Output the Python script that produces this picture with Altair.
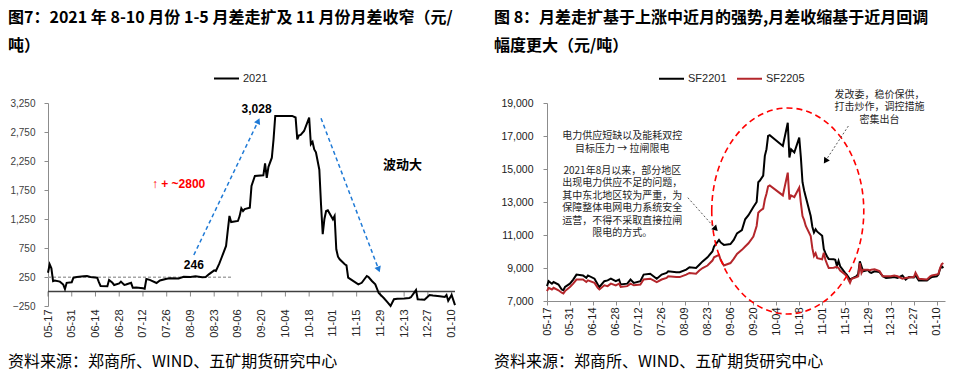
import altair as alt
import pandas as pd

# ---------------- data ----------------
L_DATES = ["05-17","05-18","05-19","05-20","05-21","05-24","05-26","05-27","05-28","05-31",
           "06-01","06-03","06-07","06-09","06-11","06-15","06-16","06-17","06-21","06-22",
           "06-24","06-25","06-28","06-29","07-01","07-02","07-05","07-06","07-08","07-12",
           "07-13","07-14","07-16","07-20","07-22","07-26","07-28","08-02","08-05","08-09",
           "08-12","08-16","08-18","08-20","08-23","08-24","08-26","08-27","08-30","08-31",
           "09-01","09-02","09-06","09-07","09-08","09-09","09-10","09-13","09-14","09-16",
           "09-21","09-22","09-23","09-24","09-26","09-27","09-28","10-08","10-10","10-11",
           "10-12","10-13","10-15","10-18","10-19","10-20","10-21","10-22","10-24","10-25",
           "10-26","10-27","10-28","10-29","11-01","11-02","11-03","11-04","11-05","11-08",
           "11-09","11-10","11-12","11-16","11-18","11-21","11-22","11-24","11-26","11-28",
           "12-01","12-03","12-05","12-07","12-09","12-13","12-16","12-17","12-20","12-21",
           "12-23","12-25","12-28","12-30","01-03","01-06","01-07","01-08","01-10","01-12"]
L_SPREAD = [324,469,400,180,190,170,120,43,150,160,
            238,250,262,267,250,238,160,95,90,198,
            150,112,140,170,112,120,150,65,70,55,
            48,216,200,147,190,220,230,225,255,250,
            262,246,250,300,365,354,480,556,785,1050,
            1302,1198,1216,1300,1434,1388,1420,1445,1819,1991,
            2003,2210,1960,2150,2307,2624,3028,3028,3000,2624,
            2693,2700,2767,2997,2538,2578,2450,2400,2100,1500,
            990,1250,1388,1400,1245,1302,728,600,556,469,
            450,238,200,124,150,267,250,181,124,-26,
            -112,-180,-250,-134,-125,-120,-112,-100,24,-134,
            -140,-143,-60,-70,-80,-95,-60,-160,-60,-236]

R_DATES = ["05-17","05-18","05-20","05-21","05-24","05-26","05-27","05-28","05-31","06-02",
           "06-04","06-08","06-10","06-11","06-15","06-17","06-18","06-21","06-23","06-25",
           "06-28","06-30","07-01","07-05","07-07","07-09","07-13","07-15","07-19","07-21",
           "07-23","07-26","07-29","07-30","08-04","08-06","08-10","08-12","08-16","08-18",
           "08-20","08-23","08-26","08-27","08-30","08-31","09-02","09-06","09-08","09-10",
           "09-13","09-15","09-17","09-20","09-22","09-23","09-24","09-26","09-27","09-28",
           "09-29","09-30","10-08","10-11","10-12","10-13","10-15","10-18","10-19","10-20",
           "10-21","10-22","10-25","10-26","10-27","10-28","10-29","11-01","11-02","11-03",
           "11-04","11-05","11-08","11-09","11-10","11-11","11-12","11-15","11-16","11-17",
           "11-18","11-19","11-22","11-23","11-24","11-25","11-26","11-29","11-30","12-01",
           "12-03","12-06","12-08","12-10","12-13","12-15","12-17","12-20","12-22","12-24",
           "12-27","12-28","12-30","01-04","01-06","01-07","01-10","01-11","01-12","01-13",
           "01-14"]
R_SF2201 = [7900,8200,8050,8150,8000,7700,7650,7850,8050,8300,
            8600,8550,8400,8550,8350,8000,7850,8200,8250,8350,
            8200,8300,8000,8050,8300,8100,8200,8600,8650,8500,
            8350,8600,8700,8800,8750,8750,8900,9050,9000,9200,
            9400,9650,10000,10300,10700,10550,10400,10450,10700,11100,
            11300,11950,12200,12700,13000,14200,14300,14600,15800,16200,
            17000,17050,16400,17800,15700,16200,16000,16900,15700,14200,
            13700,13300,12150,11500,11150,11350,11200,10950,10150,9900,
            9700,9550,9530,9500,9120,9430,9100,8700,8600,8450,
            8300,8350,8500,8650,9400,9100,8800,8870,8750,8700,
            8800,8750,8500,8400,8420,8450,8400,8550,8300,8450,
            8420,8550,8250,8250,8400,8450,8500,8600,8950,9100,
            9000]
R_SF2205 = [7600,7800,7700,7800,7650,7500,7450,7600,7850,8050,
            8300,8300,8150,8250,8100,7800,7700,7950,7900,8050,
            7950,8050,7850,7900,8050,7950,8000,8300,8350,8250,
            8150,8300,8400,8500,8450,8450,8600,8700,8650,8850,
            9000,9150,9450,9650,9800,9500,9150,9300,9550,9850,
            10100,10300,10500,10900,11550,12350,12450,12600,13150,13500,
            13950,14000,13400,14780,13150,13400,13300,13870,12950,12150,
            11900,11550,10940,10200,9730,9900,9600,9530,9930,9500,
            9230,9000,9020,9050,9070,9000,8850,8600,8500,8300,
            8100,8350,8450,8500,9300,8700,8900,8900,8850,8900,
            8920,8820,8500,8500,8500,8550,8500,8350,8400,8420,
            8450,8720,8350,8310,8500,8550,8600,8650,9000,9230,
            9300]

X_TICKS = ["05-17","05-31","06-14","06-28","07-12","07-26","08-09","08-23","09-06",
           "09-20","10-04","10-18","11-01","11-15","11-29","12-13","12-27","01-10"]
L_Y_TICKS = [-250, 250, 750, 1250, 1750, 2250, 2750, 3250]
R_Y_TICKS = [7000, 9000, 11000, 13000, 15000, 17000, 19000]

L_TITLE = ["图7：2021 年 8-10 月份 1-5 月差走扩及 11 月份月差收窄（元/", "吨）"]
R_TITLE = ["图 8：月差走扩基于上涨中近月的强势,月差收缩基于近月回调", "幅度更大（元/吨）"]
SOURCE = "资料来源：郑商所、WIND、五矿期货研究中心"


def iso(md):
    return ("2022-" if md.startswith("01") else "2021-") + md


def dt(md):
    y, m, d = iso(md).split("-")
    return alt.DateTime(year=int(y), month=int(m), date=int(d), utc=True)


CJK = "Noto Sans CJK SC"
NUM = "Liberation Sans"
ONE = pd.DataFrame({"k": [0]})

# ---------------- left panel ----------------
LW, LH = 407, 203
L_XS = alt.Scale(type="utc", domain=[dt("05-17"), dt("01-12")])
L_YS = alt.Scale(domain=[-250, 3250], nice=False, zero=False)
L_XAX = alt.Axis(values=[dt(t) for t in X_TICKS], format="%m-%d", labelAngle=-90,
                 domain=False, ticks=False, grid=False, labelPadding=3, labelFontSize=11,
                 labelFont=NUM, labelColor="#262626", title=None, labelOverlap=False)
L_YAX = alt.Axis(values=L_Y_TICKS, format=",.0f", grid=False, domainColor="#8c8c8c",
                 tickColor="#8c8c8c", tickSize=4, labelPadding=9, labelFontSize=10,
                 labelFont=NUM, labelColor="#404040", title=None)


def lx(f):
    return alt.X(f"{f}:T", scale=L_XS, axis=L_XAX)


def ly(f):
    return alt.Y(f"{f}:Q", scale=L_YS, axis=L_YAX)


ldf = pd.DataFrame({"date": [iso(d) for d in L_DATES], "v": L_SPREAD, "s": "2021"})

l_line = alt.Chart(ldf).mark_line(strokeWidth=2).encode(
    x=lx("date"), y=ly("v"),
    color=alt.Color("s:N", scale=alt.Scale(domain=["2021"], range=["#000000"]),
                    legend=alt.Legend(orient="none", legendX=165, legendY=-38,
                                      direction="horizontal", title=None, symbolType="stroke",
                                      symbolSize=625, symbolStrokeWidth=2, labelFontSize=11,
                                      labelFont=NUM, labelColor="#262626", padding=0,
                                      labelOffset=3)))

zero_df = pd.DataFrame({"z": [0]})
l_zero = alt.Chart(zero_df).mark_rule(color="#404040", strokeWidth=1.6).encode(y=ly("z"))
tick_df = pd.DataFrame({"d": [iso(t) for t in X_TICKS], "z": 0})
l_ticks = alt.Chart(tick_df).mark_tick(orient="vertical", size=5, thickness=1, yOffset=2.5,
                                       color="#595959").encode(x=lx("d"), y=ly("z"))

ref_df = pd.DataFrame({"d1": [iso("05-17")], "d2": [iso("09-02")], "v": [246]})
l_ref = alt.Chart(ref_df).mark_rule(color="#a6a6a6", strokeDash=[3, 2], strokeWidth=1.5).encode(
    x=lx("d1"), x2="d2", y=ly("v"))


def arrow(xf, yf, p0, p1, color, dash, width, ang, head_color, head_size):
    df = pd.DataFrame({"d1": [p0[0]], "v1": [p0[1]], "d2": [p1[0]], "v2": [p1[1]]})
    rule = alt.Chart(df).mark_rule(color=color, strokeDash=dash, strokeWidth=width).encode(
        x=xf("d1"), y=yf("v1"), x2="d2", y2="v2")
    head = alt.Chart(df).mark_point(shape="triangle-up", filled=True, size=head_size, angle=ang,
                                    color=head_color, opacity=1).encode(x=xf("d2"), y=yf("v2"))
    return [rule, head]


BLUE = "#1f7ad6"
l_arrows = (arrow(lx, ly, ("2021-08-11", 630), ("2021-09-18", 2940), BLUE, [4, 3], 1.5, 25, BLUE, 45)
            + arrow(lx, ly, ("2021-10-25", 2986), ("2021-11-28", 380), BLUE, [4, 3], 1.5, 159, BLUE, 45))

lab_df = pd.DataFrame({"d": ["2021-09-17", "2021-08-11"], "v": [3150, 460], "t": ["3,028", "246"]})
l_labs = alt.Chart(lab_df).mark_text(font=NUM, fontSize=12, fontWeight="bold", color="#000").encode(
    x=lx("d"), y=ly("v"), text="t:N")
red_df = pd.DataFrame({"d": ["2021-08-02"], "v": [1854], "t": ["↑ + ~2800"]})
l_red = alt.Chart(red_df).mark_text(font=NUM + ", DejaVu Sans", fontSize=12, fontWeight="bold",
                                    color="#ff0000").encode(x=lx("d"), y=ly("v"), text="t:N")
big_df = pd.DataFrame({"d": ["2021-12-12"], "v": [2181], "t": ["波动大"]})
l_big = alt.Chart(big_df).mark_text(font=CJK, fontSize=13, fontWeight="bold", color="#000").encode(
    x=lx("d"), y=ly("v"), text="t:N")


def page_text(txt, x, y, size, weight="normal"):
    return alt.Chart(ONE).mark_text(align="left", baseline="middle", font=CJK, fontSize=size,
                                    fontWeight=weight, color="#000").encode(
        x=alt.value(x), y=alt.value(y), text=alt.value(txt))


l_texts = [page_text(L_TITLE[0], -40, -85, 16, "bold"), page_text(L_TITLE[1], -40, -57, 16, "bold"),
           page_text(SOURCE, -40, 259, 16)]

left = alt.layer(l_ref, l_zero, l_ticks, l_line, *l_arrows, l_labs, l_red, l_big, *l_texts).properties(
    width=LW, height=LH)

# ---------------- right panel ----------------
RW, RH = 398, 198
R_XS = alt.Scale(type="utc", domain=[dt("05-17"), dt("01-15")])
R_YS = alt.Scale(domain=[7000, 19000], nice=False, zero=False)
R_XAX = alt.Axis(values=[dt(t) for t in X_TICKS], format="%m-%d", labelAngle=-90,
                 domainColor="#8c8c8c", tickColor="#8c8c8c", tickSize=4, grid=False,
                 labelPadding=2, labelFontSize=11, labelFont=NUM, labelColor="#1a1a1a",
                 title=None, labelOverlap=False)
R_YAX = alt.Axis(values=R_Y_TICKS, format=",.0f", grid=False, domainColor="#8c8c8c",
                 tickColor="#8c8c8c", tickSize=4, labelPadding=10, labelFontSize=10.5,
                 labelFont=NUM, labelColor="#1a1a1a", title=None)


def rx(f):
    return alt.X(f"{f}:T", scale=R_XS, axis=R_XAX)


def ry(f):
    return alt.Y(f"{f}:Q", scale=R_YS, axis=R_YAX)


rdf = pd.concat([
    pd.DataFrame({"date": [iso(d) for d in R_DATES], "v": R_SF2201, "s": "SF2201", "o": 0}),
    pd.DataFrame({"date": [iso(d) for d in R_DATES], "v": R_SF2205, "s": "SF2205", "o": 1}),
])
r_lines = alt.Chart(rdf).mark_line(strokeWidth=2).encode(
    x=rx("date"), y=ry("v"), detail="s:N", order="o:Q",
    color=alt.Color("s:N", scale=alt.Scale(domain=["SF2201", "SF2205"], range=["#000000", "#b4262b"]),
                    legend=alt.Legend(orient="none", legendX=111, legendY=-38,
                                      direction="horizontal", title=None, symbolType="stroke",
                                      symbolSize=625, symbolStrokeWidth=2, labelFontSize=11,
                                      labelFont=NUM, labelColor="#262626", padding=0,
                                      labelOffset=3, columnPadding=6)))

ELLIPSE = "M -0.738 0 A 0.738 1 0 1 1 0.738 0 A 0.738 1 0 1 1 -0.738 0 Z"
ell_df = pd.DataFrame({"d": ["2021-10-11"], "v": [12455]})
r_ell = alt.Chart(ell_df).mark_point(shape=ELLIPSE, size=42436, filled=False, stroke="#ff0000",
                                     strokeWidth=1.6, strokeDash=[6, 4], opacity=1).encode(
    x=rx("d"), y=ry("v"))

GRAY = "#595959"
r_arrows = (arrow(rx, ry, ("2021-08-11", 13261), ("2021-08-28", 11364), GRAY, [2, 2], 1, 137, "#000", 45)
            + arrow(rx, ry, ("2021-11-17", 17606), ("2021-11-03", 15485), GRAY, [2, 2], 1, 213, "#000", 45))

note_df = pd.DataFrame({
    "d": ["2021-07-02", "2021-07-02", "2021-12-06"],
    "v": [17303, 15182, 19788],
    "t": ["电力供应短缺以及能耗双控\n目标压力 → 拉闸限电",
          "2021年8月以来，部分地区\n出现电力供应不足的问题，\n其中东北地区较为严重，为\n保障整体电网电力系统安全\n运营，不得不采取直接拉闸\n限电的方式。",
          "发改委，稳价保供，\n打击炒作，调控措施\n密集出台"],
})
r_notes = alt.Chart(note_df).mark_text(font=CJK, fontSize=10, color="#262626", lineBreak="\n",
                                       lineHeight=12.5, baseline="top", align="center").encode(
    x=rx("d"), y=ry("v"), text="t:N")

r_texts = [page_text(R_TITLE[0], -53, -85, 16, "bold"), page_text(R_TITLE[1], -53, -57, 16, "bold"),
           page_text(SOURCE, -53, 259, 16)]

right = alt.layer(r_lines, r_ell, *r_arrows, r_notes, *r_texts).properties(width=RW, height=RH)

chart = alt.hconcat(left, right, spacing=92, bounds="flush").resolve_scale(
    color="independent", x="independent", y="independent").properties(
    padding={"left": 0, "top": 2, "right": 0, "bottom": 5}).configure_view(stroke=None)

chart.save("out.html", embed_options={"renderer": "svg", "actions": False})
